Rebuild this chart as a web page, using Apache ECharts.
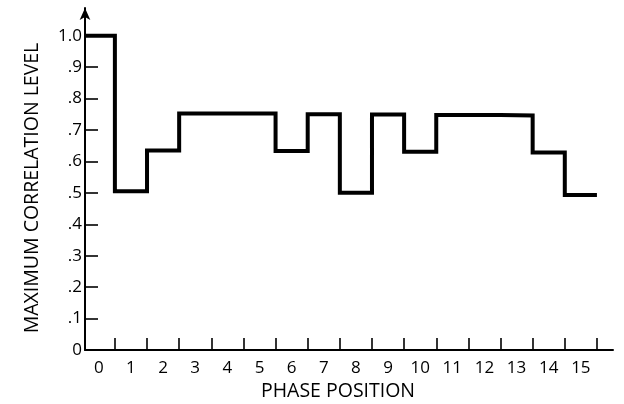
<!DOCTYPE html>
<html>
<head>
<meta charset="utf-8">
<script src="https://cdn.jsdelivr.net/npm/echarts@6/dist/echarts.min.js"></script>
<style>html,body{margin:0;padding:0;background:#fff;}#c{width:624px;height:404px;}</style>
</head>
<body>
<div id="c"></div>
<script>
const positions = [0, 1, 2, 3, 4, 5, 6, 7, 8, 9, 10, 11, 12, 13, 14, 15];
const values = [1.0, 0.505, 0.635, 0.752, 0.752, 0.752, 0.633, 0.75, 0.5, 0.749, 0.631, 0.748, 0.748, 0.746, 0.628, 0.493];
const xTickValues = [0.5, 1.5, 2.5, 3.5, 4.5, 5.5, 6.5, 7.5, 8.5, 9.5, 10.5, 11.5, 12.5, 13.5, 14.5, 15.5];
const yTickValues = [0, 0.1, 0.2, 0.3, 0.4, 0.5, 0.6, 0.7, 0.8, 0.9, 1.0];
const yTickLabels = ['0', '.1', '.2', '.3', '.4', '.5', '.6', '.7', '.8', '.9', '1.0'];

const X_MIN = -0.43, X_MAX = 16.0;

// step outline: each phase position occupies [p-0.5, p+0.5]; first starts at the axis
const stepData = positions.map((p, i) => [i === 0 ? X_MIN : p - 0.5, values[i]]);
stepData.push([positions[positions.length - 1] + 0.5, values[values.length - 1]]);

const FONT = 'Open Sans';
const chart = echarts.init(document.getElementById('c'), null, {renderer: 'canvas'});
chart.setOption({
  animation: false,
  backgroundColor: '#fff',
  grid: {left: 85, right: 11, top: 8, bottom: 54, containLabel: false},
  xAxis: {
    type: 'value', min: X_MIN, max: X_MAX,
    splitLine: {show: false},
    axisLine: {show: true, onZero: false, lineStyle: {color: '#000', width: 2}},
    axisTick: {show: true, inside: true, length: 12, customValues: xTickValues, lineStyle: {color: '#000', width: 1.6}},
    axisLabel: {show: true, customValues: positions, margin: 10, color: '#000', fontFamily: FONT, fontSize: 17,
      formatter: v => String(Math.round(v))}
  },
  yAxis: {
    type: 'value', min: 0, max: 1.088,
    splitLine: {show: false},
    axisLine: {show: true, onZero: false, symbol: ['none', 'arrow'], symbolSize: [8, 12], lineStyle: {color: '#000', width: 2}},
    axisTick: {show: true, inside: true, length: 13, customValues: yTickValues.slice(1), lineStyle: {color: '#000', width: 1.6}},
    axisLabel: {show: true, customValues: yTickValues, margin: 3, color: '#000', fontFamily: FONT, fontSize: 17,
      formatter: v => { const i = yTickValues.findIndex(t => Math.abs(t - v) < 1e-6); return i >= 0 ? yTickLabels[i] : ''; }}
  },
  graphic: [
    {type: 'text', x: 32, y: 188, rotation: Math.PI / 2,
      style: {text: 'MAXIMUM CORRELATION LEVEL', fill: '#000', font: '19.5px "' + FONT + '"', align: 'center', verticalAlign: 'middle'}},
    {type: 'text', x: 338, y: 391,
      style: {text: 'PHASE POSITION', fill: '#000', font: '19.5px "' + FONT + '"', align: 'center', verticalAlign: 'middle'}}
  ],
  series: [{
    type: 'line', step: 'end', data: stepData, showSymbol: false, symbol: 'none',
    lineStyle: {color: '#000', width: 4, join: 'miter', cap: 'butt'}
  }]
});
</script>
</body>
</html>
